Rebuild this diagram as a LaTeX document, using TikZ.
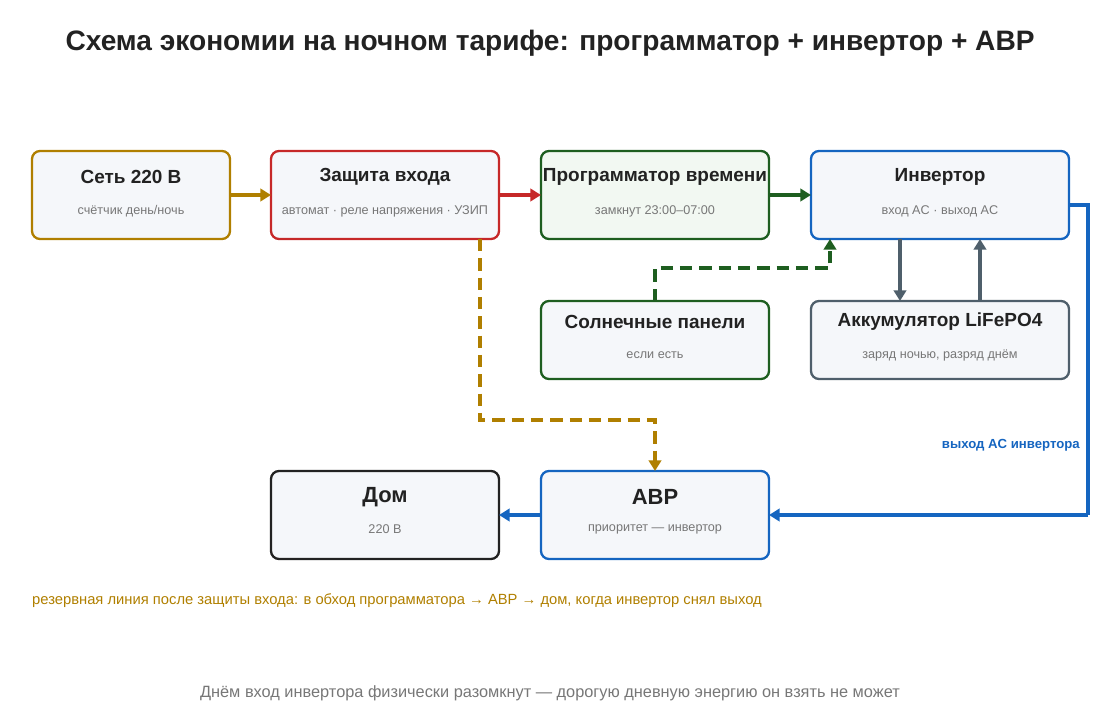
\documentclass[tikz,border=0pt]{standalone}
\usepackage{fontspec}
\setmainfont{Liberation Sans}
\usetikzlibrary{arrows.meta}
\definecolor{cgold}{HTML}{B07F00}
\definecolor{cred}{HTML}{C62828}
\definecolor{cgreen}{HTML}{1E5E20}
\definecolor{cblue}{HTML}{1565C0}
\definecolor{cslate}{HTML}{4F5F6B}
\definecolor{cdark}{HTML}{222222}
\definecolor{cfill}{HTML}{F5F7FA}
\definecolor{cgfill}{HTML}{F2F8F2}
\definecolor{ctext}{HTML}{777777}

\begin{document}
\begin{tikzpicture}
  [x=0.02cm,y=-0.02cm,
   box/.style={line width=1.3pt,rounded corners=1.6mm,fill=cfill},
   ttl/.style={font=\fontsize{10.8}{12}\selectfont\bfseries,text=cdark},
   sub/.style={font=\fontsize{7.2}{9}\selectfont,text=ctext},
   wire/.style={line width=2pt,-{Triangle[length=6pt,width=7pt]}},
   dwire/.style={wire,dash pattern=on 7pt off 4pt}]
\useasboundingbox (0,0) rectangle (1100,720);

\node [font=\fontsize{16}{19}\selectfont\bfseries,text=cdark] (title) at (550,43)
  {Схема экономии на ночном тарифе: программатор + инвертор + АВР};

% boxes
\draw [box,draw=cgold]  (32,151) rectangle (230,239);
\draw [box,draw=cred]   (271,151) rectangle (499,239);
\draw [box,draw=cgreen,fill=cgfill] (541,151) rectangle (769,239);
\draw [box,draw=cblue]  (811,151) rectangle (1069,239);
\draw [box,draw=cgreen] (541,301) rectangle (769,379);
\draw [box,draw=cslate] (811,301) rectangle (1069,379);
\draw [box,draw=cdark]  (271,471) rectangle (499,559);
\draw [box,draw=cblue]  (541,471) rectangle (769,559);

\coordinate (netL) at (32,195);   \coordinate (netR) at (230,195);
\coordinate (protL) at (271,195); \coordinate (protR) at (499,195);
\coordinate (progL) at (541,195); \coordinate (progR) at (769,195);
\coordinate (invL) at (811,195);  \coordinate (invR) at (1069,205);
\coordinate (protB) at (480,239);
\coordinate (solT) at (655,301);  \coordinate (invB) at (830,239);
\coordinate (inv1) at (900,239);  \coordinate (bat1) at (900,301);
\coordinate (inv2) at (980,239);  \coordinate (bat2) at (980,301);
\coordinate (avrT) at (655,471);  \coordinate (avrR) at (769,515);
\coordinate (avrL) at (541,515);  \coordinate (homeR) at (499,515);

\node [ttl] (netT) at (131,177) {Сеть 220 В};
\node [sub] (netS) at (131,211) {счётчик день/ночь};
\node [ttl] (protT) at (385,177) {Защита входа};
\node [sub] (protS) at (385,211) {автомат · реле напряжения · УЗИП};
\node [ttl] (progT) at (655,177) {Программатор времени};
\node [sub] (progS) at (655,211) {замкнут 23:00–07:00};
\node [ttl] (invT) at (940,177) {Инвертор};
\node [sub] (invS) at (940,211) {вход AC · выход AC};
\node [ttl] (solTx) at (655,322) {Солнечные панели};
\node [sub] (solS) at (655,355) {если есть};
\node [ttl] (batT) at (940,322) {Аккумулятор LiFePO4};
\node [sub] (batS) at (940,355) {заряд ночью, разряд днём};
\node [ttl,font=\fontsize{12.5}{14}\selectfont\bfseries] (homeT) at (385,497) {Дом};
\node [sub] (homeS) at (385,529) {220 В};
\node [ttl,font=\fontsize{12.5}{14}\selectfont\bfseries] (avrTx) at (655,497) {АВР};
\node [sub] (avrS) at (655,529) {приоритет — инвертор};

% connectors
\draw [wire,cgold]  (netR) -- (protL);
\draw [wire,cred]   (protR) -- (progL);
\draw [wire,cgreen] (progR) -- (invL);
\draw [dwire,cgreen] (solT) -- (655,268) -| (invB);
\draw [wire,cslate] (inv1) -- (bat1);
\draw [wire,cslate] (bat2) -- (inv2);
\draw [wire,cblue,-] (invR) -- (1088,205) -- (1088,515);
\draw [wire,cblue] (1088,515) -- (avrR);
\draw [dwire,cgold]  (protB) |- (655,420) -- (avrT);
\draw [wire,cblue]  (avrL) -- (homeR);

\node [anchor=east,font=\fontsize{7.5}{9}\selectfont\bfseries,text=cblue] (outlbl) at (1086,445) {выход AC инвертора};
\node [anchor=west,font=\fontsize{8.4}{10}\selectfont,text=cgold] (note) at (26,601)
  {резервная линия после защиты входа: в обход программатора → АВР → дом, когда инвертор снял выход};
\node [font=\fontsize{9.3}{11}\selectfont,text=ctext] (foot) at (550,693)
  {Днём вход инвертора физически разомкнут — дорогую дневную энергию он взять не может};
\end{tikzpicture}
\end{document}
